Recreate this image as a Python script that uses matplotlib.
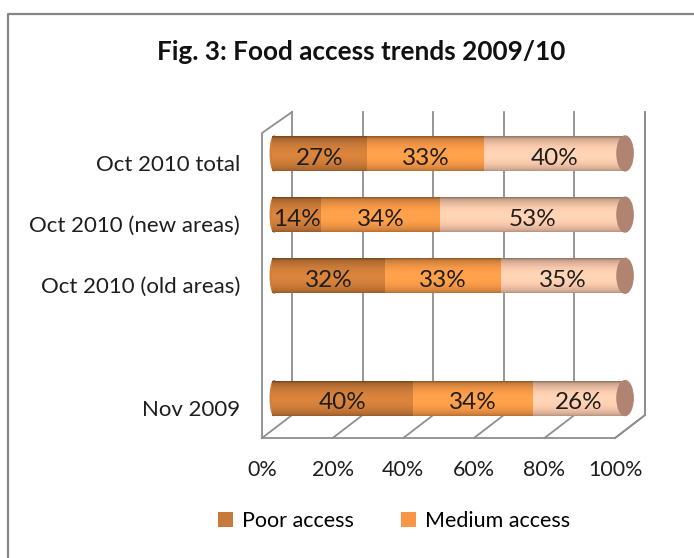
import numpy as np
import matplotlib.pyplot as plt
from matplotlib.patches import Ellipse, Patch
from matplotlib.lines import Line2D
from matplotlib.colors import to_rgb

plt.rcParams['font.family'] = ['Lato', 'DejaVu Sans']

# data (bottom to top, one empty slot between Nov 2009 and Oct 2010)
categories = ["Nov 2009", "", "Oct 2010 (old areas)", "Oct 2010 (new areas)", "Oct 2010 total"]
poor = [40, None, 32, 14, 27]
medium = [34, None, 33, 34, 33]
good = [26, None, 35, 53, 40]
series_names = ["Poor access", "Medium access", "Good access"]
series_colors = ["#D07E3A", "#F99B48", "#FBCBAE"]
cap_color = "#B08470"
ticks = [0, 20, 40, 60, 80, 100]

# 3D frame geometry (data units)
BACK_DX, FRONT_DX = 5.67, -2.83
BACK_FLOOR, FRONT_FLOOR = -0.277, -0.653
BACK_TOP, FRONT_TOP = 4.677, 4.334
BAR_H = 0.57
CAP_W = 4.6
GRID = "#8E8E8E"
TXT = "#1E1E1E"

fig = plt.figure(figsize=(6.94, 5.58), dpi=100)
ax = fig.add_axes([240 / 694, 1 - 445 / 558, 420 / 694, 345 / 558])
ax.axis('off')

# outer chart border (only top and left visible)
fig.add_artist(Line2D([7.5 / 694, 7.5 / 694, 1.0], [0, 1 - 14 / 558, 1 - 14 / 558],
                      transform=fig.transFigure, color="#868686", lw=1.6))

# back wall grid lines + floor lines
for v in ticks:
    ax.plot([v + BACK_DX, v + BACK_DX], [BACK_FLOOR, BACK_TOP], color=GRID, lw=1.3, zorder=1)
    ax.plot([v + BACK_DX, v + FRONT_DX], [BACK_FLOOR, FRONT_FLOOR], color=GRID, lw=1.3, zorder=1)
ax.plot([FRONT_DX, 100 + FRONT_DX], [FRONT_FLOOR, FRONT_FLOOR], color=GRID, lw=1.3, zorder=1)
# left wall
ax.plot([FRONT_DX, FRONT_DX, BACK_DX], [FRONT_FLOOR, FRONT_TOP, BACK_TOP], color=GRID, lw=1.3, zorder=1)
# right wall
ax.plot([100 + BACK_DX, 100 + BACK_DX, 100 + FRONT_DX], [BACK_TOP, BACK_FLOOR, FRONT_FLOOR],
        color=GRID, lw=1.3, zorder=1)

# x tick labels on the front edge
for v in ticks:
    ax.text(v + FRONT_DX, -1.175, f"{v}%", ha='center', va='center', fontsize=15.5, color=TXT)

# cylinder shading profile (bottom -> top)
t = np.linspace(0, 1, 60)
shade = 0.72 + 0.36 * np.sin(np.pi * t) ** 0.6 - 0.06 * t
shade[-3:] *= 0.88

for i, cat in enumerate(categories):
    if poor[i] is None:
        continue
    vals = [poor[i], medium[i], good[i]]
    total = sum(vals)
    y0, y1 = i - BAR_H / 2, i + BAR_H / 2
    # left rounded end
    ax.add_patch(Ellipse((0.6, i), 2.2, BAR_H, color=series_colors[0], zorder=2))
    left = 0.0
    for v, c in zip(vals, series_colors):
        w = v / total * 100
        rgb = np.array(to_rgb(c))
        img = np.clip(shade[:, None, None] * rgb[None, None, :], 0, 1)
        ax.imshow(img, extent=(left, left + w, y0, y1), origin='lower', aspect='auto',
                  interpolation='bilinear', zorder=3)
        ax.text(left + w / 2, i - 0.08, f"{v}%", ha='center', va='center',
                fontsize=17.5, color=TXT, zorder=5)
        left += w
    ax.add_patch(Ellipse((100, i), CAP_W, BAR_H, color=cap_color, zorder=4))
    ax.text(-9.0, i - 0.188, cat, ha='right', va='center', fontsize=16, color=TXT)

ax.set_xlim(-9.07, 109.9)
ax.set_ylim(-0.767, 4.873)

fig.text(361 / 694, 1 - 52 / 558, "Fig. 3: Food access trends 2009/10", ha='center', va='center',
         fontsize=18.8, fontweight='bold', color="#111111")

handles = [Patch(facecolor=c, edgecolor='none') for c in ["#C87A3B", "#F79646"]]
fig.legend(handles, series_names[:2], loc='center', bbox_to_anchor=(394 / 694, 1 - 521 / 558),
           ncol=2, frameon=False, fontsize=15.5, handlelength=0.7, handleheight=0.7,
           handletextpad=0.4, columnspacing=2.2)

fig.savefig("out.png", dpi=100, facecolor='white')
